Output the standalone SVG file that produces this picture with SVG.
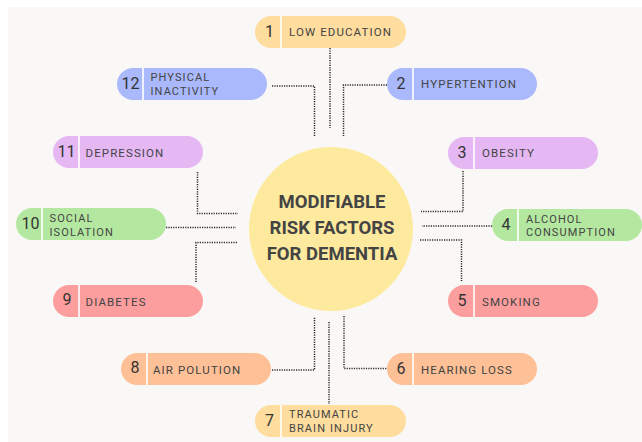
<svg xmlns="http://www.w3.org/2000/svg" width="642" height="442" viewBox="0 0 642 442">
  <style>
    .pill { stroke: none; }
    .div { stroke: #ffffff; stroke-width: 1.6; }
    .num { font-family: Roboto, "Liberation Sans", sans-serif; font-size: 16px; fill: #333333; text-anchor: middle; }
    .lbl { font-family: Roboto, "Liberation Sans", sans-serif; font-size: 11.5px; fill: #444444; letter-spacing: 1.1px; }
    .lbl2 { font-family: Roboto, "Liberation Sans", sans-serif; font-size: 11px; fill: #444444; letter-spacing: 1.1px; }
    .title { font-family: Roboto, "Liberation Sans", sans-serif; font-size: 18.5px; font-weight: bold; fill: #444444; text-anchor: middle; }
    .link { fill: none; stroke: #2a2a2a; stroke-width: 1.5; stroke-dasharray: 1.2 1.2; }
    .yellow { fill: #fedd9e; }
    .blue { fill: #aab9fc; }
    .purple { fill: #e5b8f4; }
    .green { fill: #b4e8a0; }
    .red { fill: #fd9e9e; }
    .orange { fill: #fec096; }
  </style>

  <!-- page -->
  <rect x="0" y="0" width="642" height="442" fill="#ffffff"/>
  <rect x="8" y="7" width="634" height="435" fill="#faf8f6"/>

  <!-- connectors -->
  <g id="connectors">
    <path class="link" d="M330 48 V128"/>
    <path class="link" d="M272 86 H314.5 V137"/>
    <path class="link" d="M387 85 H343.5 V136"/>
    <path class="link" d="M463 171 V211.5 H421"/>
    <path class="link" d="M197.5 172 V213.5 H238"/>
    <path class="link" d="M492 226 H422"/>
    <path class="link" d="M166 227.5 H236"/>
    <path class="link" d="M420 240 H461.5 V281"/>
    <path class="link" d="M237 242.5 H196 V282"/>
    <path class="link" d="M344 316 V368.5 H387"/>
    <path class="link" d="M272 370 H314.5 V317"/>
    <path class="link" d="M329 322 V404"/>
  </g>

  <!-- hub -->
  <g id="hub">
    <circle cx="331" cy="229" r="82" fill="#feea9e"/>
    <text class="title" x="332" y="208">MODIFIABLE</text>
    <text class="title" x="332" y="234">RISK FACTORS</text>
    <text class="title" x="332" y="260">FOR DEMENTIA</text>
  </g>

  <g id="n1" transform="translate(255,16)">
    <rect class="pill yellow" width="151" height="32" rx="16"/>
    <line class="div" x1="26" y1="0" x2="26" y2="32"/>
    <text class="num" x="14.5" y="21">1</text>
    <text class="lbl" x="34" y="20">LOW EDUCATION</text>
  </g>

  <g id="n2" transform="translate(387,68)">
    <rect class="pill blue" width="150" height="32" rx="16"/>
    <line class="div" x1="26" y1="0" x2="26" y2="32"/>
    <text class="num" x="14" y="21">2</text>
    <text class="lbl" x="34" y="20">HYPERTENTION</text>
  </g>

  <g id="n3" transform="translate(448,137)">
    <rect class="pill purple" width="150" height="32" rx="16"/>
    <line class="div" x1="26" y1="0" x2="26" y2="32"/>
    <text class="num" x="14" y="21">3</text>
    <text class="lbl" x="34" y="20">OBESITY</text>
  </g>

  <g id="n4" transform="translate(492,209)">
    <rect class="pill green" width="150" height="32" rx="16"/>
    <line class="div" x1="26" y1="0" x2="26" y2="32"/>
    <text class="num" x="14" y="21">4</text>
    <text class="lbl2" x="34" y="13.5">ALCOHOL</text>
    <text class="lbl2" x="34" y="27">CONSUMPTION</text>
  </g>

  <g id="n5" transform="translate(448,285)">
    <rect class="pill red" width="150" height="32" rx="16"/>
    <line class="div" x1="26" y1="0" x2="26" y2="32"/>
    <text class="num" x="14" y="21">5</text>
    <text class="lbl" x="34" y="21">SMOKING</text>
  </g>

  <g id="n6" transform="translate(387,353)">
    <rect class="pill orange" width="150" height="32" rx="16"/>
    <line class="div" x1="26" y1="0" x2="26" y2="32"/>
    <text class="num" x="14" y="21">6</text>
    <text class="lbl" x="34" y="20.5">HEARING LOSS</text>
  </g>

  <g id="n7" transform="translate(255,405)">
    <rect class="pill yellow" width="151" height="32" rx="16"/>
    <line class="div" x1="26" y1="0" x2="26" y2="32"/>
    <text class="num" x="14.5" y="21">7</text>
    <text class="lbl2" x="34" y="13">TRAUMATIC</text>
    <text class="lbl2" x="34" y="26.5">BRAIN INJURY</text>
  </g>

  <g id="n8" transform="translate(121,353)">
    <rect class="pill orange" width="150" height="32" rx="16"/>
    <line class="div" x1="26" y1="0" x2="26" y2="32"/>
    <text class="num" x="14" y="20">8</text>
    <text class="lbl" x="32" y="21">AIR POLUTION</text>
  </g>

  <g id="n9" transform="translate(53,285)">
    <rect class="pill red" width="150" height="32" rx="16"/>
    <line class="div" x1="26" y1="0" x2="26" y2="32"/>
    <text class="num" x="14" y="20">9</text>
    <text class="lbl" x="32.5" y="21">DIABETES</text>
  </g>

  <g id="n10" transform="translate(16,208)">
    <rect class="pill green" width="150" height="32" rx="16"/>
    <line class="div" x1="26" y1="0" x2="26" y2="32"/>
    <text class="num" x="14.5" y="21">10</text>
    <text class="lbl2" x="33.5" y="14">SOCIAL</text>
    <text class="lbl2" x="33.5" y="28">ISOLATION</text>
  </g>

  <g id="n11" transform="translate(53,136)">
    <rect class="pill purple" width="150" height="32" rx="16"/>
    <line class="div" x1="26" y1="0" x2="26" y2="32"/>
    <text class="num" x="13.5" y="21">11</text>
    <text class="lbl" x="32.5" y="21">DEPRESSION</text>
  </g>

  <g id="n12" transform="translate(117,68)">
    <rect class="pill blue" width="150" height="32" rx="16"/>
    <line class="div" x1="26" y1="0" x2="26" y2="32"/>
    <text class="num" x="13.5" y="21">12</text>
    <text class="lbl2" x="33.5" y="13">PHYSICAL</text>
    <text class="lbl2" x="33.5" y="26.5">INACTIVITY</text>
  </g>
</svg>
